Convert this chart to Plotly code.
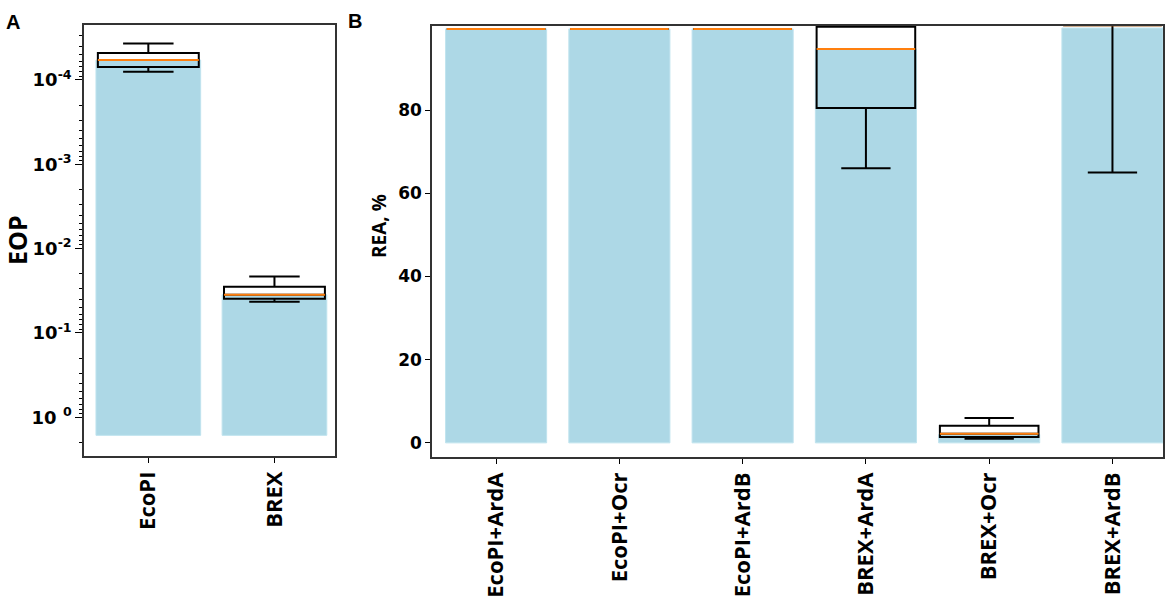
import plotly.graph_objects as go
from plotly.subplots import make_subplots

# --- data ---
# panel A: EOP (log scale, reversed)
A_CATS = ['EcoPI', 'BREX']
A_BAR = [5.8e-5, 0.0353]
A_Q1 = [4.8e-5, 0.0283]
A_MED = [5.8e-5, 0.0353]
A_Q3 = [7.0e-5, 0.0394]
A_LO = [3.7e-5, 0.0215]
A_HI = [8.0e-5, 0.0428]
A_TICKVALS = [1e-4, 1e-3, 1e-2, 1e-1, 1]
A_TICKTEXT = ['10<sup>-4</sup>', '10<sup>-3</sup>', '10<sup>-2</sup>', '10<sup>-1</sup>', '10 <sup>0</sup>']

# panel B: REA, %
B_CATS = ['EcoPI+ArdA', 'EcoPI+Ocr', 'EcoPI+ArdB', 'BREX+ArdA', 'BREX+Ocr', 'BREX+ArdB']
B_BAR = [99.5, 99.5, 99.5, 94.7, 2.0, 99.7]
B_Q1 = [99.5, 99.5, 99.5, 80.5, 1.4, 100.4]
B_MED = [99.5, 99.5, 99.5, 94.7, 2.2, 100.4]
B_Q3 = [99.5, 99.5, 99.5, 100, 4.1, 100.4]
B_LO = [99.5, 99.5, 99.5, 66.0, 1.0, 65.0]
B_HI = [99.5, 99.5, 99.5, 100, 6.0, 100.4]
B_TICKVALS = [0, 20, 40, 60, 80]

BAR_BASE = 1.64  # where the log-scale bars start
BAR_COLOR = '#add8e6'
MED_COLOR = '#ff7f0e'
FONT = 'Open Sans'
NUM_FONT = 'DejaVu Sans'
W, H = 1170, 601

fig = make_subplots(rows=1, cols=2)


def add_panel(col, cats, bar, q1, med, q3, lo, hi, base=None, barwidth=0.82):
    if base is None:
        fig.add_trace(go.Bar(x=cats, y=bar, width=barwidth,
                             marker=dict(color=BAR_COLOR, line=dict(color='#bfe3ee', width=1))),
                      row=1, col=col)
    else:
        fig.add_trace(go.Bar(x=cats, y=[v - base for v in bar], base=base, width=barwidth,
                             marker=dict(color=BAR_COLOR, line=dict(color='#bfe3ee', width=1))),
                      row=1, col=col)
    # box outline + whiskers
    fig.add_trace(go.Box(x=cats, q1=q1, median=med, q3=q3, lowerfence=lo, upperfence=hi,
                         width=0.8, whiskerwidth=0.5, boxpoints=False,
                         fillcolor='rgba(0,0,0,0)', line=dict(color='black', width=2)),
                  row=1, col=col)
    # orange median line drawn as a flat box
    fig.add_trace(go.Box(x=cats, q1=med, median=med, q3=med, lowerfence=med, upperfence=med,
                         width=0.8, whiskerwidth=0.5, boxpoints=False,
                         fillcolor='rgba(0,0,0,0)', line=dict(color=MED_COLOR, width=2)),
                  row=1, col=col)


add_panel(1, A_CATS, A_BAR, A_Q1, A_MED, A_Q3, A_LO, A_HI, base=BAR_BASE, barwidth=0.83)
add_panel(2, B_CATS, B_BAR, B_Q1, B_MED, B_Q3, B_LO, B_HI)

minor_vals = [k * 10 ** n for n in range(-5, 1) for k in range(2, 10)]

axis_common = dict(showline=True, linecolor='#333333', linewidth=1.5, mirror=True,
                   ticks='outside', ticklen=5, tickcolor='black', showgrid=False,
                   zeroline=False, automargin=False)

fig.update_xaxes(axis_common)
fig.update_yaxes(axis_common)

fig.update_xaxes(domain=[84 / W, 335 / W], range=[-0.51, 1.48], tickangle=-90,
                 tickfont=dict(family=FONT, size=22, color='black', weight='bold'), row=1, col=1)
fig.update_xaxes(domain=[432 / W, 1163 / W], range=[-0.52, 5.41], tickangle=-90,
                 tickfont=dict(family=FONT, size=22, color='black', weight='bold'), row=1, col=2)

fig.update_yaxes(domain=[1 - 456 / H, 1 - 25 / H], type='log', range=[0.46, -4.652],
                 tickmode='array', tickvals=A_TICKVALS, ticktext=A_TICKTEXT, ticklen=7,
                 minor=dict(tickmode='array', tickvals=minor_vals, ticks='outside',
                            ticklen=3, tickcolor='black'),
                 tickfont=dict(family=NUM_FONT, size=18, color='black', weight='bold'), row=1, col=1)
fig.update_yaxes(domain=[1 - 457 / H, 1 - 26 / H], range=[-3.4, 100.2],
                 tickmode='array', tickvals=B_TICKVALS,
                 tickfont=dict(family=NUM_FONT, size=17, color='black', weight='bold'), row=1, col=2)

ann = []
for label, px, py in [('A', 4, 9), ('B', 346, 8)]:
    ann.append(dict(text='<b>%s</b>' % label, x=px / W, y=1 - py / H,
                    xref='paper', yref='paper', xanchor='left', yanchor='top', showarrow=False,
                    font=dict(family='Liberation Sans', size=20, color='black')))
ann.append(dict(text='<b>EOP</b>', x=17 / W, y=1 - 240 / H, xref='paper', yref='paper',
                xanchor='center', yanchor='middle', textangle=-90, showarrow=False,
                font=dict(family=FONT, size=25, color='black')))
ann.append(dict(text='<b>REA, %</b>', x=379 / W, y=1 - 226 / H, xref='paper', yref='paper',
                xanchor='center', yanchor='middle', textangle=-90, showarrow=False,
                font=dict(family=FONT, size=19, color='black')))

fig.update_layout(width=W, height=H, margin=dict(l=0, r=0, t=0, b=0),
                  paper_bgcolor='white', plot_bgcolor='white', showlegend=False,
                  boxmode='overlay', hovermode=False, annotations=ann)

# the page adds an 8px body margin by default; remove it so the figure sits at (0, 0)
fig.write_html("out.html", config={'displayModeBar': False},
               post_script="document.body.style.margin='0px';")
